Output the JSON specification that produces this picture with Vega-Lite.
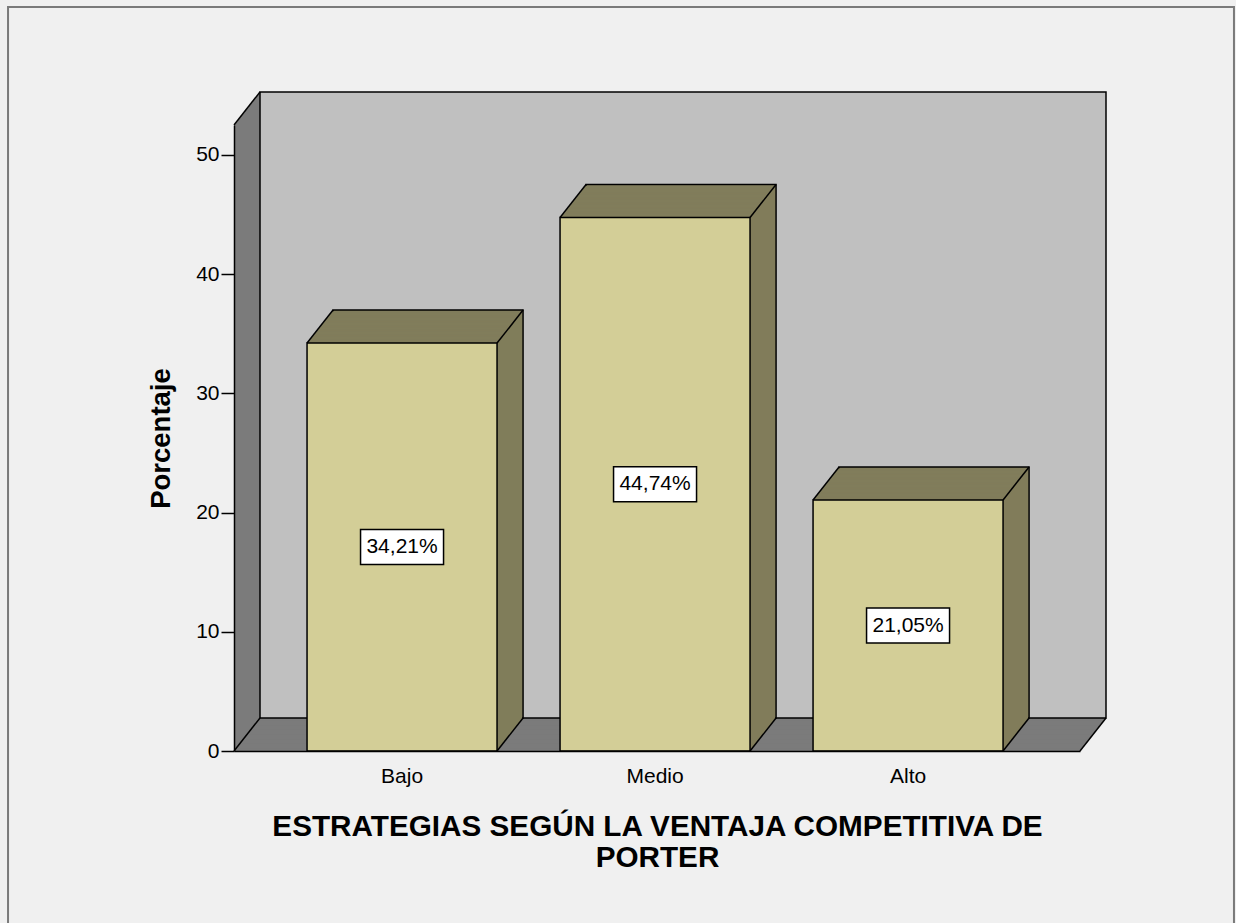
{
 "$schema": "https://vega.github.io/schema/vega-lite/v6.json",
 "width": 846, "height": 626,
 "autosize": {"type": "none"},
 "padding": {"left": 234, "top": 125, "right": 156, "bottom": 172},
 "background": "#f0f0f0",
 "config": {"font": "Liberation Sans", "view": {"stroke": null}},
 "data": {"values": [
  {"cat": "Bajo", "pct": 34.21, "label": "34,21%"},
  {"cat": "Medio", "pct": 44.74, "label": "44,74%"},
  {"cat": "Alto", "pct": 21.05, "label": "21,05%"}
 ]},
 "resolve": {"scale": {"x": "independent", "y": "independent"}, "axis": {"x": "independent", "y": "independent"}},
 "layer": [
  {
   "transform": [{"aggregate": [{"op": "count", "as": "n"}]}],
   "encoding": {
    "x": {"datum": 0, "type": "quantitative", "scale": {"domain": [0, 1], "nice": false, "zero": false}, "axis": null},
    "x2": {"datum": 1},
    "y": {"datum": 0, "type": "quantitative", "scale": {"domain": [0, 52.5], "nice": false, "zero": false}, "axis": null},
    "y2": {"datum": 52.5}
   },
   "layer": [
    {"mark": {"type": "rect", "fill": "transparent", "stroke": "#7a7a7a", "strokeWidth": 2},
     "encoding": {
      "x": {"datum": -0.2671, "type": "quantitative", "scale": {"domain": [0, 1], "nice": false, "zero": false}, "axis": null},
      "x2": {"datum": 1.182},
      "y": {"datum": 62.39, "type": "quantitative", "scale": {"domain": [0, 52.5], "nice": false, "zero": false}, "axis": null},
      "y2": {"datum": -20}
     }},
    {"mark": {"type": "rect", "fill": "#7b7b7b", "xOffset": 0, "x2Offset": 0, "yOffset": 0, "y2Offset": 0}},
    {"mark": {"type": "rect", "fill": "#7b7b7b", "xOffset": 1, "x2Offset": 1, "yOffset": -1.27, "y2Offset": -1.27}},
    {"mark": {"type": "rect", "fill": "#7b7b7b", "xOffset": 2, "x2Offset": 2, "yOffset": -2.54, "y2Offset": -2.54}},
    {"mark": {"type": "rect", "fill": "#7b7b7b", "xOffset": 3, "x2Offset": 3, "yOffset": -3.81, "y2Offset": -3.81}},
    {"mark": {"type": "rect", "fill": "#7b7b7b", "xOffset": 4, "x2Offset": 4, "yOffset": -5.08, "y2Offset": -5.08}},
    {"mark": {"type": "rect", "fill": "#7b7b7b", "xOffset": 5, "x2Offset": 5, "yOffset": -6.35, "y2Offset": -6.35}},
    {"mark": {"type": "rect", "fill": "#7b7b7b", "xOffset": 6, "x2Offset": 6, "yOffset": -7.62, "y2Offset": -7.62}},
    {"mark": {"type": "rect", "fill": "#7b7b7b", "xOffset": 7, "x2Offset": 7, "yOffset": -8.88, "y2Offset": -8.88}},
    {"mark": {"type": "rect", "fill": "#7b7b7b", "xOffset": 8, "x2Offset": 8, "yOffset": -10.15, "y2Offset": -10.15}},
    {"mark": {"type": "rect", "fill": "#7b7b7b", "xOffset": 9, "x2Offset": 9, "yOffset": -11.42, "y2Offset": -11.42}},
    {"mark": {"type": "rect", "fill": "#7b7b7b", "xOffset": 10, "x2Offset": 10, "yOffset": -12.69, "y2Offset": -12.69}},
    {"mark": {"type": "rect", "fill": "#7b7b7b", "xOffset": 11, "x2Offset": 11, "yOffset": -13.96, "y2Offset": -13.96}},
    {"mark": {"type": "rect", "fill": "#7b7b7b", "xOffset": 12, "x2Offset": 12, "yOffset": -15.23, "y2Offset": -15.23}},
    {"mark": {"type": "rect", "fill": "#7b7b7b", "xOffset": 13, "x2Offset": 13, "yOffset": -16.5, "y2Offset": -16.5}},
    {"mark": {"type": "rect", "fill": "#7b7b7b", "xOffset": 14, "x2Offset": 14, "yOffset": -17.77, "y2Offset": -17.77}},
    {"mark": {"type": "rect", "fill": "#7b7b7b", "xOffset": 15, "x2Offset": 15, "yOffset": -19.04, "y2Offset": -19.04}},
    {"mark": {"type": "rect", "fill": "#7b7b7b", "xOffset": 16, "x2Offset": 16, "yOffset": -20.31, "y2Offset": -20.31}},
    {"mark": {"type": "rect", "fill": "#7b7b7b", "xOffset": 17, "x2Offset": 17, "yOffset": -21.58, "y2Offset": -21.58}},
    {"mark": {"type": "rect", "fill": "#7b7b7b", "xOffset": 18, "x2Offset": 18, "yOffset": -22.85, "y2Offset": -22.85}},
    {"mark": {"type": "rect", "fill": "#7b7b7b", "xOffset": 19, "x2Offset": 19, "yOffset": -24.12, "y2Offset": -24.12}},
    {"mark": {"type": "rect", "fill": "#7b7b7b", "xOffset": 20, "x2Offset": 20, "yOffset": -25.38, "y2Offset": -25.38}},
    {"mark": {"type": "rect", "fill": "#7b7b7b", "xOffset": 21, "x2Offset": 21, "yOffset": -26.65, "y2Offset": -26.65}},
    {"mark": {"type": "rect", "fill": "#7b7b7b", "xOffset": 22, "x2Offset": 22, "yOffset": -27.92, "y2Offset": -27.92}},
    {"mark": {"type": "rect", "fill": "#7b7b7b", "xOffset": 23, "x2Offset": 23, "yOffset": -29.19, "y2Offset": -29.19}},
    {"mark": {"type": "rect", "fill": "#7b7b7b", "xOffset": 24, "x2Offset": 24, "yOffset": -30.46, "y2Offset": -30.46}},
    {"mark": {"type": "rect", "fill": "#7b7b7b", "xOffset": 25, "x2Offset": 25, "yOffset": -31.73, "y2Offset": -31.73}},
    {"mark": {"type": "rect", "fill": "#c0c0c0", "stroke": "black", "strokeWidth": 1.5, "xOffset": 26, "x2Offset": 26, "yOffset": -33, "y2Offset": -33}},
    {"mark": {"type": "rule", "color": "black", "strokeWidth": 1.5, "x2Offset": 26, "y2Offset": -33},
     "encoding": {
      "x": {"datum": 0, "type": "quantitative", "scale": {"domain": [0, 1], "nice": false, "zero": false}, "axis": null},
      "x2": {"datum": 0},
      "y": {"datum": 52.5, "type": "quantitative", "scale": {"domain": [0, 52.5], "nice": false, "zero": false}, "axis": null},
      "y2": {"datum": 52.5}
     }},
    {"mark": {"type": "rule", "color": "black", "strokeWidth": 1.5, "x2Offset": 26, "y2Offset": -33},
     "encoding": {
      "x": {"datum": 0, "type": "quantitative", "scale": {"domain": [0, 1], "nice": false, "zero": false}, "axis": null},
      "x2": {"datum": 0},
      "y": {"datum": 0, "type": "quantitative", "scale": {"domain": [0, 52.5], "nice": false, "zero": false}, "axis": null},
      "y2": {"datum": 0}
     }},
    {"mark": {"type": "rule", "color": "black", "strokeWidth": 1.5, "x2Offset": 26, "y2Offset": -33},
     "encoding": {
      "x": {"datum": 1, "type": "quantitative", "scale": {"domain": [0, 1], "nice": false, "zero": false}, "axis": null},
      "x2": {"datum": 1},
      "y": {"datum": 0, "type": "quantitative", "scale": {"domain": [0, 52.5], "nice": false, "zero": false}, "axis": null},
      "y2": {"datum": 0}
     }}
   ]
  },
  {
   "encoding": {
    "x": {"field": "cat", "type": "nominal", "sort": ["Bajo", "Medio", "Alto"],
     "scale": {"paddingInner": 0.249, "paddingOuter": 0.2964, "align": 0.487},
     "axis": {"ticks": false, "tickSize": 0, "labelPadding": 14, "labelFontSize": 21, "labelColor": "black", "labelAngle": 0,
      "domainColor": "black", "domainWidth": 1.5, "zindex": 1,
      "title": ["ESTRATEGIAS SEGÚN LA VENTAJA COMPETITIVA DE", "PORTER"],
      "titleFontSize": 29.7, "titleFontWeight": "bold", "titleColor": "black", "titlePadding": 26, "titleLineHeight": 31}},
    "y": {"field": "pct", "type": "quantitative",
     "scale": {"domain": [0, 52.5], "nice": false, "zero": false},
     "axis": {"orient": "left", "values": [0, 10, 20, 30, 40, 50], "grid": false, "tickSize": 13, "tickColor": "black", "tickWidth": 1.5,
      "domainColor": "black", "domainWidth": 1.5, "labelFontSize": 21, "labelColor": "black", "labelPadding": 2, "zindex": 1,
      "title": "Porcentaje", "titleFontSize": 27.5, "titleFontWeight": "bold", "titleColor": "black", "titlePadding": 20}}
   },
   "layer": [
    {"mark": {"type": "bar", "fill": "#817d5b", "stroke": "black", "strokeWidth": 1.5, "xOffset": 26, "yOffset": -33, "y2Offset": -33}},
    {"mark": {"type": "bar", "fill": "#817d5b", "xOffset": 25, "yOffset": -31.73, "y2Offset": -31.73}},
    {"mark": {"type": "bar", "fill": "#817d5b", "xOffset": 24, "yOffset": -30.46, "y2Offset": -30.46}},
    {"mark": {"type": "bar", "fill": "#817d5b", "xOffset": 23, "yOffset": -29.19, "y2Offset": -29.19}},
    {"mark": {"type": "bar", "fill": "#817d5b", "xOffset": 22, "yOffset": -27.92, "y2Offset": -27.92}},
    {"mark": {"type": "bar", "fill": "#817d5b", "xOffset": 21, "yOffset": -26.65, "y2Offset": -26.65}},
    {"mark": {"type": "bar", "fill": "#817d5b", "xOffset": 20, "yOffset": -25.38, "y2Offset": -25.38}},
    {"mark": {"type": "bar", "fill": "#817d5b", "xOffset": 19, "yOffset": -24.12, "y2Offset": -24.12}},
    {"mark": {"type": "bar", "fill": "#817d5b", "xOffset": 18, "yOffset": -22.85, "y2Offset": -22.85}},
    {"mark": {"type": "bar", "fill": "#817d5b", "xOffset": 17, "yOffset": -21.58, "y2Offset": -21.58}},
    {"mark": {"type": "bar", "fill": "#817d5b", "xOffset": 16, "yOffset": -20.31, "y2Offset": -20.31}},
    {"mark": {"type": "bar", "fill": "#817d5b", "xOffset": 15, "yOffset": -19.04, "y2Offset": -19.04}},
    {"mark": {"type": "bar", "fill": "#817d5b", "xOffset": 14, "yOffset": -17.77, "y2Offset": -17.77}},
    {"mark": {"type": "bar", "fill": "#817d5b", "xOffset": 13, "yOffset": -16.5, "y2Offset": -16.5}},
    {"mark": {"type": "bar", "fill": "#817d5b", "xOffset": 12, "yOffset": -15.23, "y2Offset": -15.23}},
    {"mark": {"type": "bar", "fill": "#817d5b", "xOffset": 11, "yOffset": -13.96, "y2Offset": -13.96}},
    {"mark": {"type": "bar", "fill": "#817d5b", "xOffset": 10, "yOffset": -12.69, "y2Offset": -12.69}},
    {"mark": {"type": "bar", "fill": "#817d5b", "xOffset": 9, "yOffset": -11.42, "y2Offset": -11.42}},
    {"mark": {"type": "bar", "fill": "#817d5b", "xOffset": 8, "yOffset": -10.15, "y2Offset": -10.15}},
    {"mark": {"type": "bar", "fill": "#817d5b", "xOffset": 7, "yOffset": -8.88, "y2Offset": -8.88}},
    {"mark": {"type": "bar", "fill": "#817d5b", "xOffset": 6, "yOffset": -7.62, "y2Offset": -7.62}},
    {"mark": {"type": "bar", "fill": "#817d5b", "xOffset": 5, "yOffset": -6.35, "y2Offset": -6.35}},
    {"mark": {"type": "bar", "fill": "#817d5b", "xOffset": 4, "yOffset": -5.08, "y2Offset": -5.08}},
    {"mark": {"type": "bar", "fill": "#817d5b", "xOffset": 3, "yOffset": -3.81, "y2Offset": -3.81}},
    {"mark": {"type": "bar", "fill": "#817d5b", "xOffset": 2, "yOffset": -2.54, "y2Offset": -2.54}},
    {"mark": {"type": "bar", "fill": "#817d5b", "xOffset": 1, "yOffset": -1.27, "y2Offset": -1.27}},
    {"mark": {"type": "bar", "fill": "#d3ce97", "stroke": "black", "strokeWidth": 1.5}}
   ]
  },
  {
   "layer": [
    {"mark": {"type": "rule", "color": "black", "strokeWidth": 1.5, "x2Offset": 26, "y2Offset": -33},
     "encoding": {
      "x": {"field": "cat", "type": "nominal", "sort": ["Bajo", "Medio", "Alto"], "bandPosition": 0, "scale": {"type": "band", "paddingInner": 0.249, "paddingOuter": 0.2964, "align": 0.487}, "axis": null},
      "x2": {"field": "cat", "bandPosition": 0},
      "y": {"field": "pct", "type": "quantitative", "scale": {"domain": [0, 52.5], "nice": false, "zero": false}, "axis": null},
      "y2": {"field": "pct"}
     }},
    {"mark": {"type": "rule", "color": "black", "strokeWidth": 1.5, "x2Offset": 26, "y2Offset": -33},
     "encoding": {
      "x": {"field": "cat", "type": "nominal", "sort": ["Bajo", "Medio", "Alto"], "bandPosition": 1, "scale": {"type": "band", "paddingInner": 0.249, "paddingOuter": 0.2964, "align": 0.487}, "axis": null},
      "x2": {"field": "cat", "bandPosition": 1},
      "y": {"field": "pct", "type": "quantitative", "scale": {"domain": [0, 52.5], "nice": false, "zero": false}, "axis": null},
      "y2": {"field": "pct"}
     }},
    {"mark": {"type": "rule", "color": "black", "strokeWidth": 1.5, "x2Offset": 26, "y2Offset": -33},
     "encoding": {
      "x": {"field": "cat", "type": "nominal", "sort": ["Bajo", "Medio", "Alto"], "bandPosition": 1, "scale": {"type": "band", "paddingInner": 0.249, "paddingOuter": 0.2964, "align": 0.487}, "axis": null},
      "x2": {"field": "cat", "bandPosition": 1},
      "y": {"datum": 0, "type": "quantitative", "scale": {"domain": [0, 52.5], "nice": false, "zero": false}, "axis": null},
      "y2": {"datum": 0}
     }}
   ]
  },
  {
   "encoding": {
    "x": {"field": "cat", "type": "nominal", "sort": ["Bajo", "Medio", "Alto"], "scale": {"type": "band", "paddingInner": 0.249, "paddingOuter": 0.2964, "align": 0.487}, "axis": null},
    "y": {"field": "pct", "type": "quantitative", "scale": {"domain": [0, 105], "nice": false, "zero": false}, "axis": null}
   },
   "layer": [
    {"mark": {"type": "point", "shape": "M-1,-0.4217L1,-0.4217L1,0.4217L-1,0.4217Z", "size": 6889, "filled": true, "fill": "white", "stroke": "black", "strokeWidth": 1.5, "opacity": 1}},
    {"mark": {"type": "text", "fontSize": 21, "color": "black", "baseline": "middle", "align": "center"},
     "encoding": {"text": {"field": "label"}}}
   ]
  }
 ]
}
